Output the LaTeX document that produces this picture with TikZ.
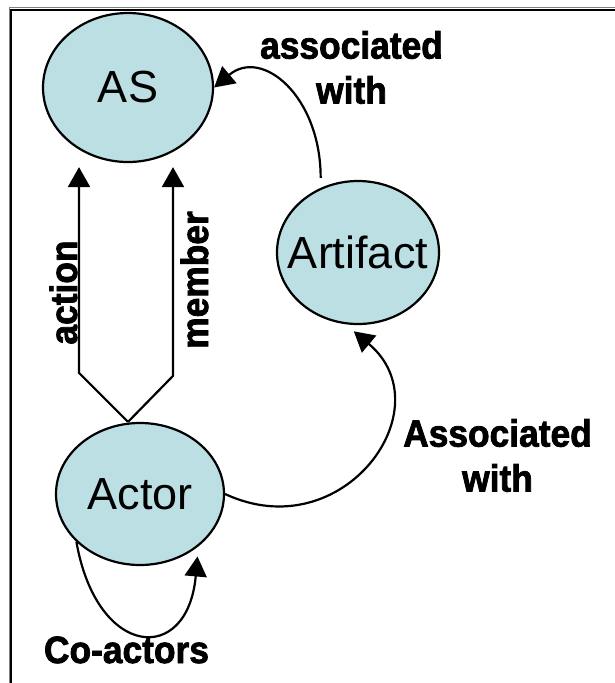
\documentclass[tikz,border=0pt]{standalone}
\usepackage{fontspec}
\setmainfont{Liberation Sans}
\newfontfamily\heavyfont[FakeBold=2,FakeStretch=0.93]{Liberation Sans Bold}
\usetikzlibrary{shapes.geometric, arrows.meta, calc}
\definecolor{bubblefill}{RGB}{188,223,227}

\begin{document}
\begin{tikzpicture}[x=1pt, y=1pt,
    bubble/.style={ellipse, draw, line width=2.2pt, fill=bubblefill, inner sep=0pt,
                   font=\fontsize{45}{50}\selectfont},
    lbl/.style={inner sep=0pt, font=\heavyfont\fontsize{38}{45}\selectfont},
    arr/.style={line width=2.2pt, -{Triangle[length=20pt,width=22pt]}}]

    \useasboundingbox (0,0) rectangle (615,-683);

    % Khung
    \draw[gray, line width=1pt] (9,-690) -- (9,-7.5) -- (620,-7.5);
    \draw[line width=2pt] (11,-690) -- (11,-9.5) -- (620,-9.5);

    % Các nút
    \node[bubble, minimum width=170pt, minimum height=149pt] (as) at (128,-87.5) {\makebox[0pt]{AS}};
    \node[bubble, minimum width=162pt, minimum height=143pt] (artifact) at (358,-252.5) {\makebox[0pt]{Artifact}};
    \node[bubble, minimum width=168pt, minimum height=142pt] (actor) at (140,-494) {\makebox[0pt]{Actor}};

    % Điểm tách trên Actor
    \coordinate (fork) at ($(actor.north)+(-12,0)$);

    % action và member
    \draw[arr, shorten >=4pt] (fork) -- ++(-49,49) coordinate (actbend) -- (actbend |- as.south);
    \draw[arr, shorten >=4pt] (fork) -- ++(45,46) coordinate (membend) -- (membend |- as.south);
    \node[lbl, rotate=90, anchor=base] (action) at (77,-292.5) {action};
    \node[lbl, rotate=90, anchor=base] (member) at (208,-280) {member};

    % associated with
    \draw[arr, shorten <=10pt] (artifact.120) to[out=90, in=40, out looseness=1.6, in looseness=1.1] (as.east);
    \node[lbl, align=center] (assoc) at (351.5,-67.5) {associated\\with};

    % Associated with
    \draw[arr, shorten >=11pt] (actor.east) to[out=-25, in=-40, looseness=1.6] (artifact.260);
    \node[lbl, align=center] (assoc2) at (497.5,-455.5) {Associated\\with};

    % Co-actors
    \draw[arr, shorten >=10pt] (actor.217) to[out=-80, in=-95, looseness=2.5] (actor.318);
    \node[lbl, anchor=base] (coact) at (126.5,-663) {Co-actors};

\end{tikzpicture}
\end{document}
